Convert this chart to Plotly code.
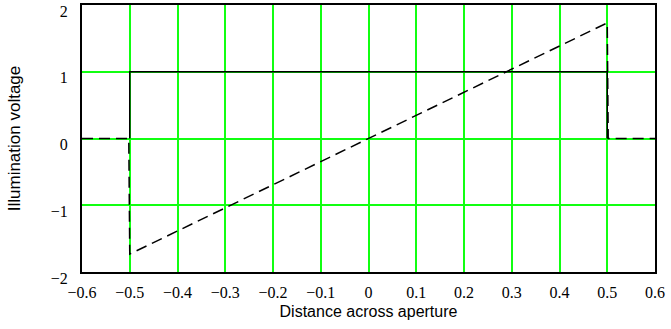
import plotly.graph_objects as go

# Data
rect_x = [-0.5, -0.5, 0.5, 0.5]
rect_y = [0, 1, 1, 0]

ramp_x = [-0.6, -0.502, -0.5, 0.5, 0.502, 0.6]
ramp_y = [0, 0, -1.732, 1.732, 0, 0]

x_ticks = [-0.6, -0.5, -0.4, -0.3, -0.2, -0.1, 0, 0.1, 0.2, 0.3, 0.4, 0.5, 0.6]
x_labels = ["\u22120.6", "\u22120.5", "\u22120.4", "\u22120.3", "\u22120.2", "\u22120.1",
            "0", "0.1", "0.2", "0.3", "0.4", "0.5", "0.6"]
y_ticks = [-2, -1, 0, 1, 2]
y_labels = ["\u22122", "\u22121", "0", "1", "2"]

fig = go.Figure()
fig.add_trace(go.Scatter(x=ramp_x, y=ramp_y, mode="lines",
                         line=dict(color="black", width=1.5, dash="11px,6px"),
                         showlegend=False, hoverinfo="skip"))
fig.add_trace(go.Scatter(x=rect_x, y=rect_y, mode="lines",
                         line=dict(color="black", width=1.5),
                         showlegend=False, hoverinfo="skip"))

tickfont = dict(family="Liberation Serif", size=16, color="black")
fig.update_layout(
    width=671, height=329,
    margin=dict(l=82, r=16, t=5, b=57),
    paper_bgcolor="white", plot_bgcolor="white",
    font=dict(family="Liberation Sans", color="black"),
    xaxis=dict(range=[-0.6, 0.6], tickvals=x_ticks, ticktext=x_labels,
               tickfont=tickfont, showgrid=True, gridcolor="#11ff11", gridwidth=1.5,
               zeroline=False, showline=True, mirror=True, linecolor="black",
               linewidth=2, ticks="", ticklabelstandoff=5, automargin=False,
               ticklabeloverflow="allow",
               title=dict(text="Distance across aperture",
                          font=dict(family="Liberation Sans", size=16), standoff=6)),
    yaxis=dict(range=[-2, 2], tickvals=y_ticks, ticktext=y_labels,
               tickfont=tickfont, showgrid=True, gridcolor="#11ff11", gridwidth=1.5,
               zeroline=False, showline=True, mirror=True, linecolor="black",
               linewidth=2, ticks="", ticklabelstandoff=9, automargin=False,
               ticklabeloverflow="allow", ticklabelshift=6,
               title=dict(text="Illumination voltage",
                          font=dict(family="Liberation Sans", size=17), standoff=26)),
)

fig.write_html("out.html", config={"displayModeBar": False},
               post_script="document.body.style.margin='0';document.body.style.overflow='hidden';")
